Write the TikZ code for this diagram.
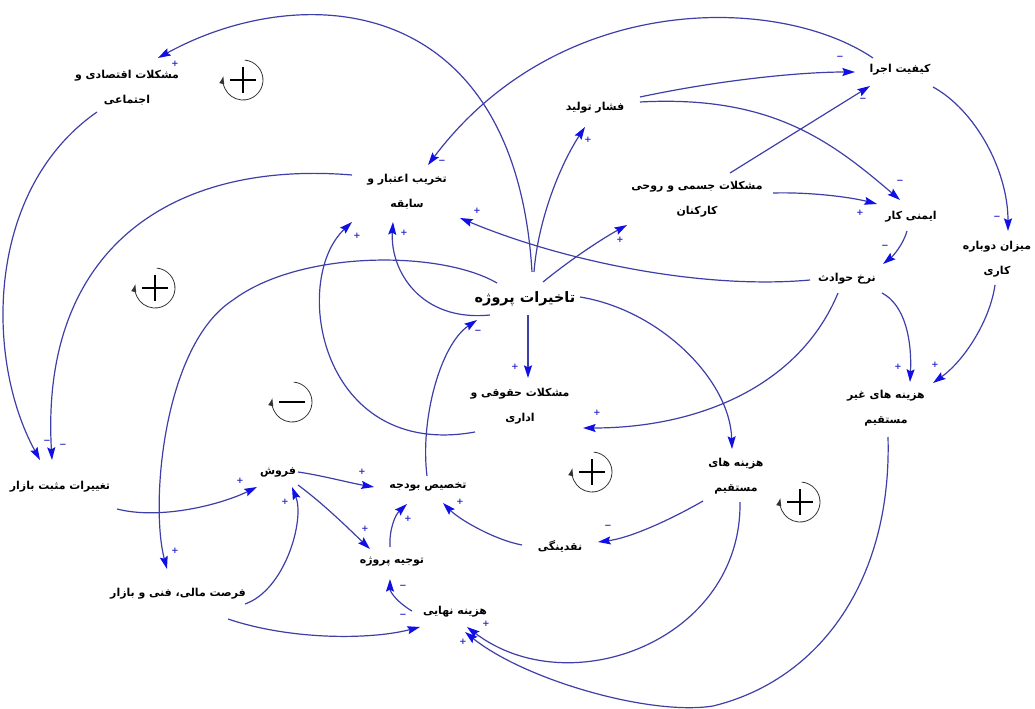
\documentclass[tikz,border=0pt]{standalone}
\usepackage{fontspec}
\usetikzlibrary{arrows.meta,calc}
\newfontfamily\farsi[Script=Arabic]{DejaVu Sans}
\newfontfamily\signfont{DejaVu Sans}
\TeXXeTstate=1
\newcommand\fa[1]{\beginR #1\endR}
\definecolor{linecol}{RGB}{62,62,168}
\definecolor{tipcol}{RGB}{15,15,230}
\definecolor{signcol}{RGB}{40,40,200}
\begin{document}
\begin{tikzpicture}[x=0.75pt,y=-0.75pt,
  lab/.style={font=\farsi\bfseries\fontsize{8.2}{18.75}\selectfont, align=center, inner sep=1pt},
  big/.style={font=\farsi\bfseries\fontsize{10.8}{13}\selectfont, inner sep=1pt},
  conn/.style={draw=linecol, line width=0.9pt, -{Stealth[length=9.5pt,width=6pt,inset=1.5pt,color=tipcol]}},
  pol/.style={font=\signfont\bfseries\fontsize{6.5}{6.5}\selectfont, text=signcol, inner sep=0pt},
  ringline/.style={draw=black!80, line width=0.6pt, -{Latex[length=6pt,width=4pt]}},
  signline/.style={draw=black, line width=1.6pt},
  looppos/.pic={\draw[ringline] (-85:20) arc[start angle=-85, end angle=192, radius=20];
                \draw[signline] (-13,0) -- (13,0) (0,-13) -- (0,13);},
  loopneg/.pic={\draw[ringline] (-85:20) arc[start angle=-85, end angle=192, radius=20];
                \draw[signline] (-13,0) -- (13,0);}
]
\useasboundingbox (0,0) rectangle (1035,709);

% variables
\node[lab] (econ)   at (127,88)  {\fa{مشکلات اقتصادی و}\\\fa{اجتماعی}};
\node[lab] (trust)  at (407,192) {\fa{تخریب اعتبار و}\\\fa{سابقه}};
\node[lab] (press)  at (595,108) {\fa{فشار تولید}};
\node[lab] (qual)   at (900,70)  {\fa{کیفیت اجرا}};
\node[lab] (phys)   at (697,199) {\fa{مشکلات جسمی و روحی}\\\fa{کارکنان}};
\node[lab] (safe)   at (911,217) {\fa{ایمنی کار}};
\node[lab] (rework) at (997,259) {\fa{میزان دوباره}\\\fa{کاری}};
\node[lab] (acc)    at (847,279) {\fa{نرخ حوادث}};
\node[big] (delay)  at (525,299) {\fa{تاخیرات پروژه}};
\node[lab] (legal)  at (520,406) {\fa{مشکلات حقوقی و}\\\fa{اداری}};
\node[lab] (indir)  at (886,408) {\fa{هزینه های غیر}\\\fa{مستقیم}};
\node[lab] (direct) at (736,476) {\fa{هزینه های}\\\fa{مستقیم}};
\node[lab] (market) at (60,487)  {\fa{تغییرات مثبت بازار}};
\node[lab] (sales)  at (278,472) {\fa{فروش}};
\node[lab] (budget) at (428,487) {\fa{تخصیص بودجه}};
\node[lab] (liq)    at (560,546) {\fa{نقدینگی}};
\node[lab] (just)   at (392,562) {\fa{توجیه پروژه}};
\node[lab] (opp)    at (178,594) {\fa{فرصت مالی، فنی و بازار}};
\node[lab] (final)  at (455,612) {\fa{هزینه نهایی}};

% connectors
\draw[conn] ($(delay)+(7,-27)$) .. controls (515,-10) and (300,-20) .. ($(econ)+(31,-30)$);
\draw[conn] ($(qual)+(-27,-12)$) .. controls (780,-5) and (560,-10) .. ($(trust)+(21,-27)$);
\draw[conn] ($(press)+(45,-11)$) .. controls (720,80) and (800,72) .. ($(qual)+(-45,2)$);
\draw[conn] ($(press)+(45,-6)$) .. controls (770,95) and (830,140) .. ($(safe)+(-11,-17)$);
\draw[conn] ($(phys)+(33,-26)$) -- ($(qual)+(-30,16)$);
\draw[conn] ($(phys)+(76,-6)$) .. controls (810,192) and (850,197) .. ($(safe)+(-34,-13)$);
\draw[conn] ($(safe)+(-4,14)$) .. controls (903,245) and (893,256) .. ($(acc)+(36,-15)$);
\draw[conn] ($(qual)+(33,17)$) .. controls (975,110) and (1008,170) .. ($(rework)+(11,-28)$);
\draw[conn] ($(acc)+(-37,1)$) .. controls (700,290) and (560,260) .. ($(trust)+(53,26)$);
\draw[conn] ($(acc)+(35,14)$) .. controls (905,305) and (912,340) .. ($(indir)+(24,-26)$);
\draw[conn] ($(acc)+(-9,14)$) .. controls (800,385) and (700,428) .. ($(legal)+(63,22)$);
\draw[conn] ($(rework)+(-2,26)$) .. controls (990,320) and (965,360) .. ($(indir)+(47,-25)$);
\draw[conn] ($(delay)+(9,-27)$) .. controls (538,220) and (560,165) .. ($(press)+(-10,19)$);
\draw[conn] ($(delay)+(18,-17)$) .. controls (570,260) and (600,240) .. ($(phys)+(-70,26)$);
\draw[conn] ($(delay)+(-35,16)$) .. controls (420,322) and (390,270) .. ($(trust)+(-14,30)$);
\draw[conn] ($(delay)+(-28,-16)$) .. controls (440,250) and (300,250) .. (233,300) .. controls (163,345) and (150,505) .. ($(opp)+(-11,-25)$);
\draw[conn] ($(trust)+(-55,-17)$) .. controls (170,160) and (40,250) .. ($(market)+(-8,-27)$);
\draw[conn] ($(econ)+(-30,24)$) .. controls (-15,190) and (-15,360) .. ($(market)+(-20,-27)$);
\draw[conn] ($(market)+(57,22)$) .. controls (160,520) and (220,505) .. ($(sales)+(-21,15)$);
\draw[conn] ($(opp)+(67,10)$) .. controls (285,590) and (305,520) .. ($(sales)+(14,15)$);
\draw[conn] ($(opp)+(50,25)$) .. controls (290,640) and (370,640) .. ($(final)+(-35,15)$);
\draw[conn] ($(sales)+(20,0)$) .. controls (320,475) and (350,483) .. ($(budget)+(-54,0)$);
\draw[conn] ($(sales)+(20,13)$) .. controls (325,505) and (350,530) .. ($(just)+(-22,-13)$);
\draw[conn] ($(just)+(-2,-15)$) .. controls (389,530) and (395,515) .. ($(budget)+(-21,17)$);
\draw[conn] ($(final)+(-43,-1)$) .. controls (398,603) and (390,592) .. ($(just)+(-2,17)$);
\draw[conn] ($(liq)+(-38,-1)$) .. controls (495,540) and (460,520) .. ($(budget)+(15,16)$);
\draw[conn] ($(direct)+(-33,25)$) .. controls (670,520) and (630,538) .. ($(liq)+(38,-4)$);
\draw[conn] ($(direct)+(4,26)$) .. controls (742,640) and (570,705) .. ($(final)+(12,15)$);
\draw[conn] ($(indir)+(2,29)$) .. controls (892,580) and (820,680) .. (713,706) .. controls (650,716) and (525,680) .. ($(final)+(10,20)$);
\draw[conn] ($(delay)+(55,-2)$) .. controls (660,310) and (730,380) .. ($(direct)+(-4,-27)$);
\draw[conn] ($(delay)+(3,16)$) -- ($(legal)+(8,-28)$);
\draw[conn] ($(legal)+(-45,26)$) .. controls (320,460) and (290,280) .. ($(trust)+(-55,30)$);
\draw[conn] ($(budget)+(-1,-11)$) .. controls (420,420) and (440,345) .. ($(delay)+(-48,21)$);

% polarities
\node[pol] (pa) at (175,64) {+};
\node[pol] (pb) at (442,162) {−};
\node[pol] (pc) at (840,58) {−};
\node[pol] (pd) at (900,182) {−};
\node[pol] (pe) at (863,100) {−};
\node[pol] (pf) at (860,213) {+};
\node[pol] (pg) at (885,247) {−};
\node[pol] (ph) at (997,218) {−};
\node[pol] (pi) at (477,211) {+};
\node[pol] (pj) at (898,367) {+};
\node[pol] (pk) at (597,413) {+};
\node[pol] (pl) at (935,365) {+};
\node[pol] (pm) at (588,140) {+};
\node[pol] (pn) at (620,240) {+};
\node[pol] (po) at (404,233) {+};
\node[pol] (pp) at (175,551) {+};
\node[pol] (pq) at (63,446) {−};
\node[pol] (pr) at (47,442) {−};
\node[pol] (ps) at (240,481) {+};
\node[pol] (pt) at (285,502) {+};
\node[pol] (pu) at (403,616) {−};
\node[pol] (pv) at (362,472) {+};
\node[pol] (pw) at (365,529) {+};
\node[pol] (px) at (408,519) {+};
\node[pol] (py) at (403,587) {−};
\node[pol] (pz) at (460,502) {+};
\node[pol] (paa) at (608,527) {−};
\node[pol] (pbb) at (486,624) {+};
\node[pol] (pcc) at (463,642) {+};
\node[pol] (pee) at (515,367) {+};
\node[pol] (pff) at (357,236) {+};
\node[pol] (pgg) at (478,332) {−};

% loop markers
\pic at (243,80) {looppos};
\pic at (155,288) {looppos};
\pic at (292,402) {loopneg};
\pic at (592,472) {looppos};
\pic at (800,502) {looppos};
\end{tikzpicture}
\end{document}
